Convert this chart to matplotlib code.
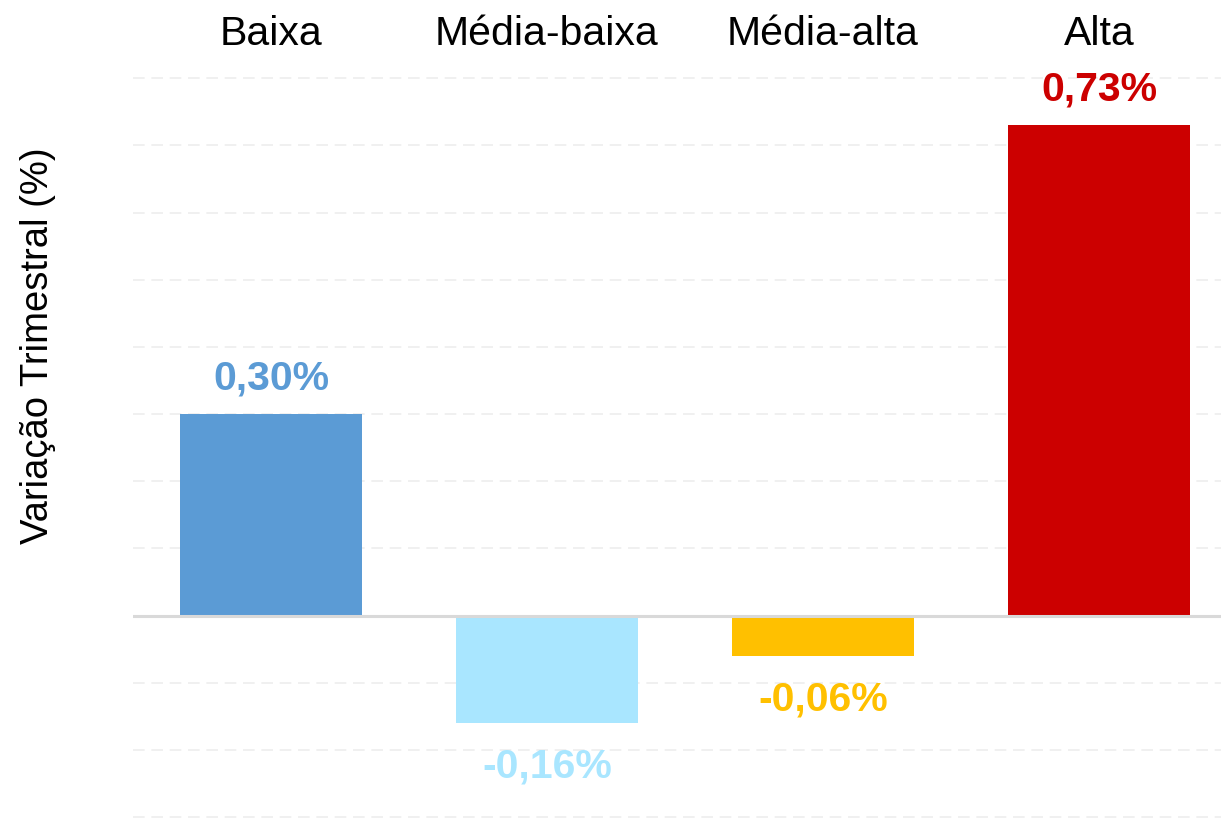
import numpy as np
import matplotlib.pyplot as plt

plt.rcParams["font.family"] = ["Liberation Sans", "DejaVu Sans"]

# Data
categorias = ["Baixa", "Média-baixa", "Média-alta", "Alta"]
variacao = [0.30, -0.16, -0.06, 0.73]
rotulos = ["0,30%", "-0,16%", "-0,06%", "0,73%"]
cores = ["#5B9BD5", "#A9E6FF", "#FFC000", "#CC0000"]
grade = [-0.3, -0.2, -0.1, 0.1, 0.2, 0.3, 0.4, 0.5, 0.6, 0.7, 0.8]

fig = plt.figure(figsize=(12.21, 8.18), dpi=100)
ax = fig.add_axes([133 / 1221, 0, 1088 / 1221, 1])

x = np.arange(len(categorias))
bars = ax.bar(x, variacao, width=0.66, color=cores, zorder=3)

# value labels above / below the bars
for xi, v, lab, c in zip(x, variacao, rotulos, cores):
    if v >= 0:
        ax.annotate(lab, (xi, v), xytext=(0, 18), textcoords="offset points",
                    ha="center", va="baseline", fontsize=29.5,
                    fontweight="bold", color=c)
    else:
        ax.annotate(lab, (xi, v), xytext=(0, -18), textcoords="offset points",
                    ha="center", va="top", fontsize=29.5,
                    fontweight="bold", color=c)

# dashed grid + zero line
for g in grade:
    ax.axhline(g, color="#EEEEEE", linewidth=1.2, linestyle=(0, (7, 4)), zorder=1)
ax.axhline(0, color="#D9D9D9", linewidth=2.2, zorder=4)

ax.set_xlim(-0.5, -0.5 + 1088 / 276)
ax.set_ylim(-0.3 - 1 / 670, 0.8 + 78 / 670)

# category labels on top, inside the axes
ax.set_xticks(x)
ax.set_xticklabels(categorias, fontsize=29.5)
ax.tick_params(axis="x", top=True, labeltop=True, bottom=False,
               labelbottom=False, length=0, pad=-38)
ax.set_yticks([])

ax.set_ylabel("Variação Trimestral (%)", fontsize=27.5, va="center")
ax.yaxis.set_label_coords(-0.0873, 0.578)

for s in ax.spines.values():
    s.set_visible(False)

fig.savefig("out.png", dpi=100)
